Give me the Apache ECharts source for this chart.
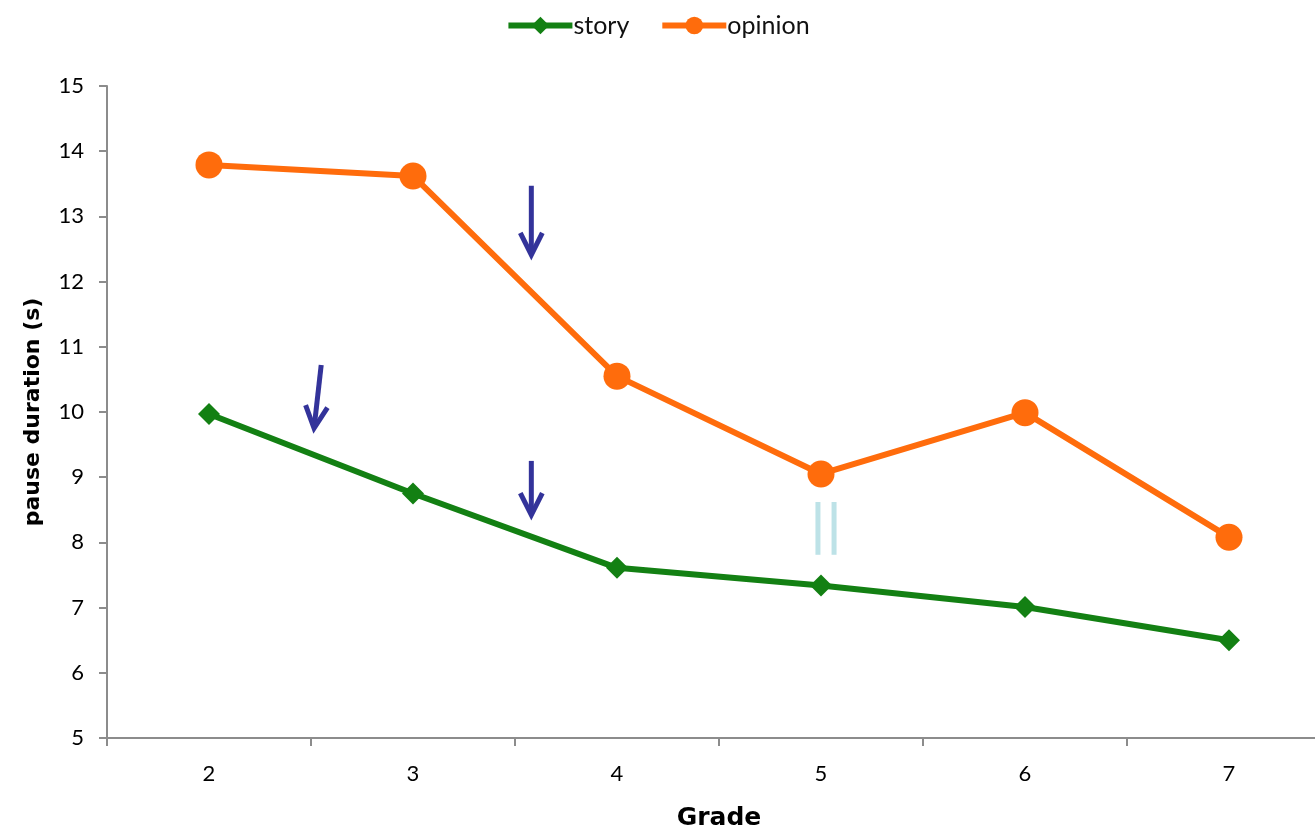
<!DOCTYPE html>
<html><head><meta charset="utf-8">
<script src="https://cdn.jsdelivr.net/npm/echarts@6/dist/echarts.min.js"></script>
<style>html,body{margin:0;padding:0;background:#fff}#c{width:1315px;height:827px}</style>
</head><body><div id="c"></div>
<script>
var categories = ['2','3','4','5','6','7'];
var story = [9.97, 8.75, 7.61, 7.34, 7.01, 6.5];
var opinion = [13.79, 13.62, 10.55, 9.05, 9.99, 8.08];
// annotation arrows: [xIndexTop, yTop, xIndexBottom, yBottom]
var arrows = [[0.55, 10.72, 0.515, 9.75], [1.58, 13.47, 1.58, 12.41], [1.58, 9.25, 1.58, 8.42]];
// light-blue "||" mark: [xIndex, yTop, yBottom]
var bars = [[2.985, 8.62, 7.81], [3.064, 8.62, 7.81]];

var FONT = 'Lato, "Open Sans", sans-serif';
var BOLD = '"DejaVu Sans", Lato, sans-serif';
var chart = echarts.init(document.getElementById('c'));
chart.setOption({
  animation: false,
  legend: {
    top: 8, left: 'center', itemWidth: 64, itemHeight: 22, itemGap: 30,
    lineStyle: {width: 6},
    textStyle: {fontFamily: FONT, fontSize: 25, color: '#111', padding: [0, 0, 0, -4]},
    data: ['story', 'opinion']
  },
  grid: {left: 107, right: -16, top: 86, bottom: 89, outerBoundsMode: 'none', containLabel: false},
  xAxis: {
    type: 'category', data: categories, boundaryGap: true,
    name: 'Grade', nameLocation: 'middle', nameGap: 68,
    nameTextStyle: {fontFamily: BOLD, fontSize: 25, fontWeight: 'bold', color: '#000'},
    axisLine: {lineStyle: {color: '#8c8c8c', width: 2}},
    axisTick: {show: true, length: 8, lineStyle: {color: '#8c8c8c', width: 2}, alignWithLabel: false},
    axisLabel: {fontFamily: FONT, fontSize: 22, color: '#000', margin: 25},
    splitLine: {show: false}
  },
  yAxis: {
    type: 'value', min: 5, max: 15, interval: 1,
    name: 'pause duration (s)', nameLocation: 'middle', nameGap: 63, nameRotate: 90,
    nameTextStyle: {fontFamily: BOLD, fontSize: 22, fontWeight: 'bold', color: '#000'},
    axisLine: {show: true, lineStyle: {color: '#8c8c8c', width: 2}},
    axisTick: {show: true, length: 8, lineStyle: {color: '#8c8c8c', width: 2}},
    axisLabel: {fontFamily: FONT, fontSize: 22, color: '#000', margin: 23},
    splitLine: {show: false}
  },
  series: [
    {name: 'story', type: 'line', data: story, symbol: 'diamond', symbolSize: 22,
     lineStyle: {color: '#138013', width: 6}, itemStyle: {color: '#138013'}},
    {name: 'opinion', type: 'line', data: opinion, symbol: 'circle', symbolSize: 27,
     lineStyle: {color: '#ff6c0c', width: 6}, itemStyle: {color: '#ff6c0c'}}
  ]
});

function px(idx, val) {
  var p0 = chart.convertToPixel({gridIndex: 0}, [0, 5]);
  var p1 = chart.convertToPixel({gridIndex: 0}, [1, val]);
  return [p0[0] + (p1[0] - p0[0]) * idx, p1[1]];
}
var g = [];
arrows.forEach(function (a) {
  var t = px(a[0], a[1]), b = px(a[2], a[3]);
  var dx = b[0] - t[0], dy = b[1] - t[1], L = Math.sqrt(dx * dx + dy * dy);
  var ux = dx / L, uy = dy / L, nx = -uy, ny = ux, h = 22, w = 11;
  g.push({type: 'line', shape: {x1: t[0], y1: t[1], x2: b[0] - ux * 4, y2: b[1] - uy * 4},
    style: {stroke: '#33339a', lineWidth: 5}, z: 10});
  g.push({type: 'polyline', shape: {points: [
      [b[0] - ux * h + nx * w, b[1] - uy * h + ny * w], [b[0], b[1]],
      [b[0] - ux * h - nx * w, b[1] - uy * h - ny * w]]},
    style: {stroke: '#33339a', lineWidth: 5, fill: null, lineJoin: 'miter'}, z: 10});
});
bars.forEach(function (r) {
  var t = px(r[0], r[1]), b = px(r[0], r[2]);
  g.push({type: 'line', shape: {x1: t[0], y1: t[1], x2: b[0], y2: b[1]},
    style: {stroke: '#bde2e7', lineWidth: 5}, z: 10});
});
chart.setOption({graphic: g});
</script></body></html>
